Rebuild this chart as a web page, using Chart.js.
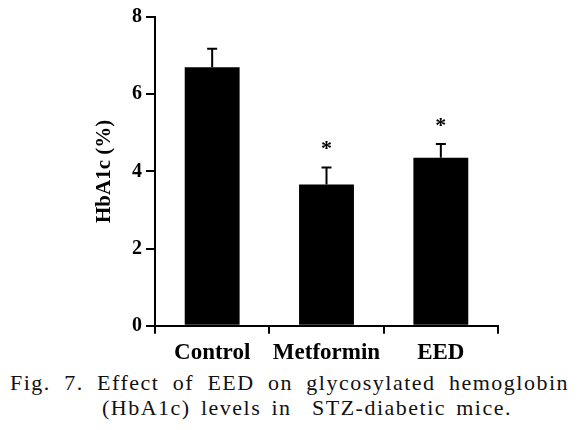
<!DOCTYPE html>
<html>
<head>
<meta charset="utf-8">
<script src="https://cdn.jsdelivr.net/npm/chart.js@4"></script>
<style>
    body { margin: 0; background: #fff; }
    #wrap { position: relative; width: 587px; height: 430px; overflow: hidden; }
    #chart-hba1c { position: absolute; left: 0; top: 0; }
    .caption { position: absolute; font-family: "Liberation Serif", serif; font-size: 22px; line-height: 22px; color: #111; letter-spacing: 1.5px; text-align: justify; text-align-last: justify; }
    .caption.l1 { left: 10px; top: 372px; width: 559px; }
    .caption.l2 { left: 102px; top: 397px; width: 410px; }
</style>
</head>
<body>
<div id="wrap">
    <canvas id="chart-hba1c" width="587" height="370"></canvas>
    <div class="caption l1">Fig. 7. Effect of EED on glycosylated hemoglobin</div>
    <div class="caption l2">(HbA1c) levels in &nbsp;STZ-diabetic mice.</div>
</div>
<script>
const groups = ['Control', 'Metformin', 'EED'];
const hba1cMean = [6.7, 3.66, 4.35];
const hba1cSem = [0.48, 0.44, 0.36];
const significant = [false, true, true];
const yTicks = [0, 2, 4, 6, 8];

const serifBold = 'Liberation Serif';
Chart.defaults.font.family = serifBold;
Chart.defaults.color = '#000';

// error bars + asterisks, drawn through the y scale
const errorBarPlugin = {
    id: 'errorBars',
    afterDatasetsDraw(chart) {
        const ctx = chart.ctx;
        const y = chart.scales.y;
        const meta = chart.getDatasetMeta(0);
        ctx.save();
        ctx.strokeStyle = '#000';
        ctx.lineWidth = 2;
        meta.data.forEach((bar, i) => {
            const top = y.getPixelForValue(hba1cMean[i] + hba1cSem[i]);
            const base = y.getPixelForValue(hba1cMean[i]);
            ctx.beginPath();
            ctx.moveTo(bar.x, base);
            ctx.lineTo(bar.x, top);
            ctx.moveTo(bar.x - 5, top);
            ctx.lineTo(bar.x + 5, top);
            ctx.stroke();
            if (significant[i]) {
                ctx.fillStyle = '#000';
                ctx.font = 'bold 22px "Liberation Serif"';
                ctx.textAlign = 'center';
                ctx.textBaseline = 'alphabetic';
                ctx.fillText('*', bar.x, top - 12);
            }
        });
        ctx.restore();
    }
};

const draw = () => new Chart(document.getElementById('chart-hba1c').getContext('2d'), {
    type: 'bar',
    data: {
        labels: groups,
        datasets: [{
            data: hba1cMean,
            backgroundColor: '#000',
            borderColor: '#000',
            borderWidth: 0,
            categoryPercentage: 1,
            barPercentage: 0.48
        }]
    },
    options: {
        responsive: false,
        animation: false,
        layout: { padding: { left: 88, top: 17, right: 89, bottom: 0 } },
        plugins: {
            legend: { display: false },
            tooltip: { enabled: false }
        },
        scales: {
            x: {
                grid: { display: true, drawOnChartArea: false, offset: true, tickLength: 8, color: '#000', lineWidth: 2 },
                border: { color: '#000', width: 2 },
                ticks: { color: '#000', padding: 6, font: { family: serifBold, size: 23, weight: 'bold' } },
                afterFit: (s) => { s.height = 44.3; }
            },
            y: {
                min: 0,
                max: 8,
                afterBuildTicks: (s) => { s.ticks = yTicks.map(v => ({ value: v })); },
                grid: { display: true, drawOnChartArea: false, tickLength: 9, color: '#000', lineWidth: 2 },
                border: { color: '#000', width: 2 },
                ticks: { color: '#000', padding: 4, font: { family: serifBold, size: 20, weight: 'bold' } },
                title: {
                    display: true,
                    text: 'HbA1c (%)',
                    color: '#000',
                    padding: { top: 4, bottom: 0 },
                    font: { family: serifBold, size: 21, weight: 'bold' }
                },
                afterFit: (s) => { s.width = 67; }
            }
        }
    },
    plugins: [errorBarPlugin]
});

document.fonts.load('bold 22px "Liberation Serif"').then(draw, draw);
</script>
</body>
</html>
